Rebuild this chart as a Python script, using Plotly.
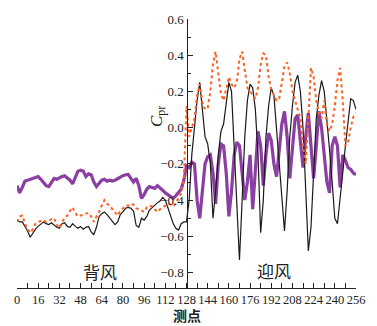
import plotly.graph_objects as go

# measuring points (every 2nd point)
points = list(range(0, 257, 2))

black_vals = [
    -0.51, -0.52, -0.52, -0.545, -0.57, -0.605, -0.58, -0.56, -0.545, -0.53,
    -0.52, -0.53, -0.535, -0.525, -0.54, -0.55, -0.555, -0.53, -0.525, -0.545,
    -0.55, -0.53, -0.545, -0.555, -0.545, -0.56, -0.55, -0.545, -0.575, -0.59,
    -0.55, -0.49, -0.475, -0.465, -0.48, -0.50, -0.515, -0.535, -0.52, -0.48,
    -0.465, -0.445, -0.44, -0.445, -0.46, -0.54, -0.55, -0.50, -0.51, -0.49,
    -0.455, -0.44, -0.425, -0.415, -0.405, -0.385, -0.40, -0.445, -0.49, -0.53,
    -0.555, -0.565, -0.53, -0.52,
    # windward 128..256
    -0.52, -0.40, -0.15, 0.0, 0.15, 0.25, 0.10, -0.05, -0.09, -0.20,
    -0.50, -0.35, -0.15, -0.02, 0.02, 0.15, 0.25, 0.20, -0.10, -0.45,
    -0.73, -0.40, -0.05, 0.15, 0.24, 0.22, 0.10, -0.15, -0.58, -0.40,
    -0.05, 0.12, 0.22, 0.18, 0.0, -0.20, -0.40, -0.57, -0.35, -0.05,
    0.12, 0.25, 0.29, 0.20, 0.0, -0.30, -0.68, -0.55, -0.20, 0.05,
    0.18, 0.26, 0.20, 0.05, -0.12, -0.30, -0.50, -0.53, -0.40, -0.25,
    -0.10, 0.05, 0.16, 0.15, 0.10,
]

orange_vals = [
    -0.52, -0.49, -0.485, -0.53, -0.56, -0.58, -0.56, -0.53, -0.52, -0.515,
    -0.51, -0.52, -0.51, -0.505, -0.50, -0.535, -0.555, -0.52, -0.50, -0.485,
    -0.46, -0.44, -0.47, -0.49, -0.485, -0.48, -0.475, -0.47, -0.49, -0.52,
    -0.49, -0.465, -0.43, -0.40, -0.42, -0.43, -0.45, -0.47, -0.485, -0.46,
    -0.445, -0.43, -0.43, -0.42, -0.425, -0.445, -0.45, -0.46, -0.465, -0.44,
    -0.43, -0.435, -0.45, -0.465, -0.45, -0.44, -0.43, -0.42, -0.425, -0.435,
    -0.41, -0.39, -0.36, -0.28,
    # windward 128..256
    0.12, -0.05, 0.0, 0.05, 0.18, 0.24, 0.14, 0.10, 0.11, 0.20,
    0.35, 0.42, 0.30, 0.19, 0.15, 0.22, 0.28, 0.24, 0.22, 0.25,
    0.38, 0.42, 0.32, 0.22, 0.20, 0.18, 0.16, 0.22, 0.35, 0.41,
    0.40, 0.28, 0.21, 0.18, 0.15, 0.16, 0.25, 0.34, 0.36, 0.30,
    0.20, 0.15, 0.10, 0.05, -0.10, -0.20, 0.05, 0.33, 0.28, 0.15,
    0.08, 0.05, 0.15, 0.02, -0.02, 0.02, 0.12, 0.26, 0.33, 0.15,
    -0.10, -0.08, 0.0, 0.06, 0.08,
]

purple_vals = [
    -0.32, -0.36, -0.33, -0.295, -0.29, -0.285, -0.28, -0.275, -0.27, -0.285,
    -0.30, -0.32, -0.325, -0.30, -0.28, -0.285, -0.275, -0.27, -0.265, -0.275,
    -0.29, -0.31, -0.275, -0.24, -0.235, -0.24, -0.27, -0.255, -0.26, -0.30,
    -0.325, -0.31, -0.29, -0.285, -0.295, -0.29, -0.295, -0.29, -0.28, -0.27,
    -0.265, -0.26, -0.258, -0.28, -0.30, -0.28, -0.32, -0.39, -0.37, -0.34,
    -0.325, -0.33, -0.335, -0.32, -0.33, -0.345, -0.36, -0.37, -0.385, -0.39,
    -0.375, -0.36, -0.34, -0.29,
    # windward 128..256
    -0.21, -0.22, -0.19, -0.20, -0.40, -0.50, -0.35, -0.20, -0.16, -0.15,
    -0.25, -0.42, -0.20, -0.09, -0.10, -0.25, -0.49, -0.35, -0.15, -0.08,
    -0.10, -0.25, -0.40, -0.30, -0.15, -0.45, -0.20, -0.02, -0.10, -0.32,
    -0.15, -0.03, -0.07, -0.20, -0.27, -0.10, 0.02, 0.09, -0.05, -0.28,
    -0.10, 0.05, 0.07, -0.10, -0.22, -0.05, 0.08, -0.10, -0.28, -0.10,
    0.09, 0.0, -0.15, -0.30, -0.36, -0.10, -0.05, -0.10, -0.33, -0.15,
    -0.18, -0.22, -0.23, -0.25, -0.26,
]

x_tick_vals = list(range(0, 257, 16))
y_tick_vals = [-0.8, -0.6, -0.4, -0.2, 0.0, 0.2, 0.4, 0.6]

serif = "Liberation Serif"
cjk = "Noto Sans CJK SC"

fig = go.Figure()
fig.add_trace(go.Scatter(x=points, y=purple_vals, mode="lines",
                         line=dict(color="#8b3fa3", width=3.2), showlegend=False))
fig.add_trace(go.Scatter(x=points, y=black_vals, mode="lines",
                         line=dict(color="#1a1a1a", width=1.2), showlegend=False))
fig.add_trace(go.Scatter(x=points, y=orange_vals, mode="lines",
                         line=dict(color="#ff5f1f", width=2, dash="dot"), showlegend=False))

fig.update_layout(
    width=377, height=326,
    margin=dict(l=17, r=15, t=13, b=38),
    paper_bgcolor="white", plot_bgcolor="white",
    font=dict(family=serif, size=13, color="#222"),
    xaxis=dict(range=[0, 256], tickvals=x_tick_vals, ticks="inside", ticklen=5,
               tickangle=0, tickcolor="#222", showline=True, linecolor="#222",
               linewidth=1.2, showgrid=False, zeroline=False,
               minor=dict(dtick=8, tick0=0, ticks="inside", ticklen=5, tickcolor="#222"),
               tickfont=dict(family=serif, size=12.5)),
    yaxis=dict(range=[-0.885, 0.6], tickvals=y_tick_vals, tickformat=".1f",
               ticks="inside", ticklen=5, tickcolor="#222",
               showline=True, linecolor="#222", linewidth=1.2,
               showgrid=False, zeroline=False, anchor="free", position=0.5,
               minor=dict(dtick=0.1, tick0=0, ticks="inside", ticklen=3, tickcolor="#222"),
               tickfont=dict(family=serif, size=13)),
)

fig.add_annotation(text="<i>C</i><sub>pr</sub>", xref="paper", yref="paper",
                   x=(160 - 17) / 345, y=(326 - 38 - 100) / 275, textangle=-90,
                   showarrow=False, font=dict(family=serif, size=17, color="#222"))
fig.add_annotation(text="背风", x=63, y=-0.795, showarrow=False,
                   font=dict(family=cjk, size=17, color="#222"))
fig.add_annotation(text="迎风", x=194, y=-0.79, showarrow=False,
                   font=dict(family=cjk, size=17, color="#222"))
fig.add_annotation(text="<b>测点</b>", xref="paper", yref="paper",
                   x=0.5, y=-0.099, yanchor="middle", showarrow=False,
                   font=dict(family=cjk, size=14, color="#222"))

fig.write_html("out.html")
